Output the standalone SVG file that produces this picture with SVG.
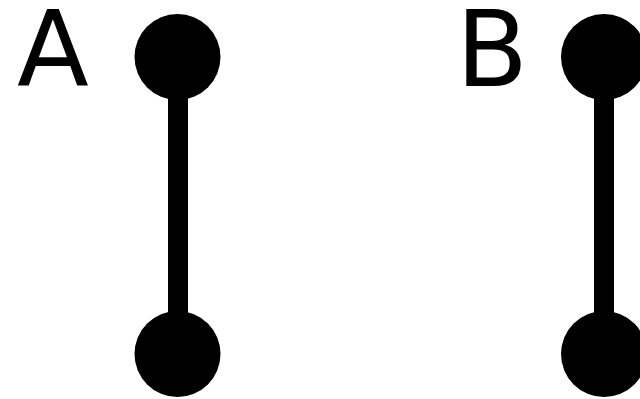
<svg xmlns="http://www.w3.org/2000/svg" width="640" height="399" viewBox="0 0 640 399">
<style>
.lbl{font-family:"DejaVu Sans","Liberation Sans",sans-serif;font-size:105px;fill:#000;text-anchor:middle}
.bar{stroke:#000;stroke-width:20}
.dot{fill:#000}
</style>
<rect width="640" height="399" fill="#fff"/>
<g id="connectors">
<line class="bar" x1="178" y1="57" x2="178" y2="354"/>
<line class="bar" x1="604" y1="57" x2="604" y2="354"/>
</g>
<g id="labelA"><text class="lbl" x="53" y="86">A</text></g>
<g id="labelB"><text class="lbl" x="492" y="86">B</text></g>
<g id="A-top"><circle class="dot" cx="177.5" cy="57" r="43"/></g>
<g id="A-bottom"><circle class="dot" cx="177.5" cy="354" r="43"/></g>
<g id="B-top"><circle class="dot" cx="604" cy="57" r="43"/></g>
<g id="B-bottom"><circle class="dot" cx="604" cy="354" r="43"/></g>
</svg>
